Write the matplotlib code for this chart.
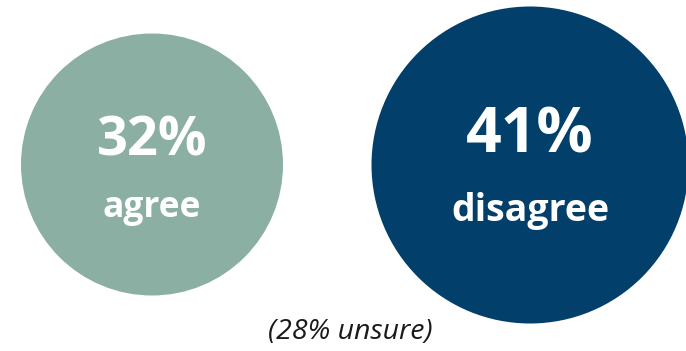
import matplotlib.pyplot as plt
from matplotlib.patches import Circle

# Data
labels = ['agree', 'disagree']
values = [32, 41]
unsure = 28

# Layout (pixel coordinates of the canvas)
centers = [(152, 164.5), (530, 165)]
radii = [131, 158.5]
colors = ['#8BAFA2', '#023F6A']
pct_sizes = [39, 45]
lab_sizes = [25.5, 27]
pct_y = [141, 136]
lab_y = [208, 211]

fig = plt.figure(figsize=(6.86, 3.51), dpi=100)
ax = fig.add_axes([0, 0, 1, 1])
ax.set_xlim(0, 686)
ax.set_ylim(351, 0)
ax.set_aspect('equal')
ax.axis('off')

for i in range(len(values)):
    cx, cy = centers[i]
    ax.add_patch(Circle((cx, cy), radii[i], color=colors[i], lw=0))
    ax.text(cx, pct_y[i], f'{values[i]}%', color='white', fontsize=pct_sizes[i],
            fontweight='bold', family='Open Sans', ha='center', va='center')
    ax.text(cx, lab_y[i], labels[i], color='white', fontsize=lab_sizes[i],
            fontweight='bold', family='Open Sans', ha='center', va='center')

ax.text(350, 332, f'({unsure}% unsure)', color='#1a1a1a', fontsize=20.5,
        style='italic', family='Open Sans', ha='center', va='center')

fig.savefig('out.png', dpi=100)
